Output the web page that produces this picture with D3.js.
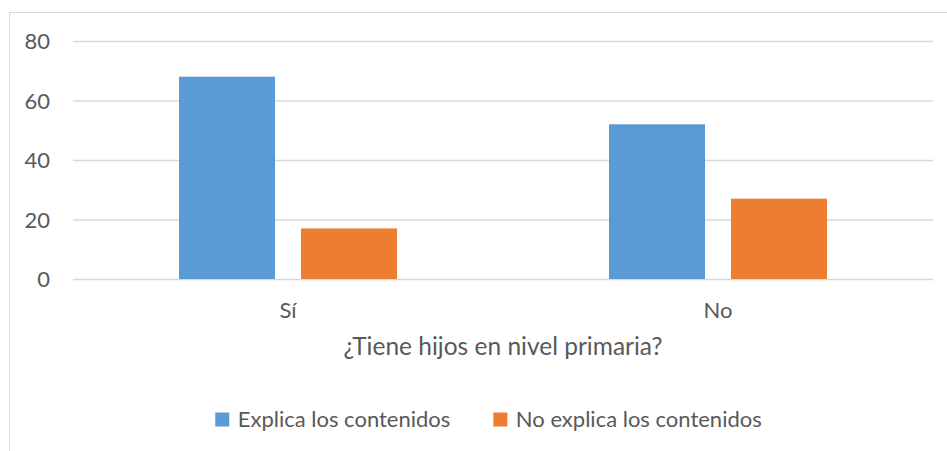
<!DOCTYPE html>
<html>
<head>
<meta charset="utf-8">
<script src="https://cdn.jsdelivr.net/npm/d3@7"></script>
<style>
  html, body { margin: 0; padding: 0; background: #fff; }
  svg { display: block; }
  text { font-family: Lato, "Open Sans", sans-serif; fill: #595959; }
</style>
</head>
<body>
<svg id="chart" width="947" height="451"></svg>
<script>
const categories = ["Sí", "No"];
const seriesNames = ["Explica los contenidos", "No explica los contenidos"];
const explica = [68, 52];
const noExplica = [17, 27];
const yTicks = [0, 20, 40, 60, 80];
const colors = ["#5B9BD5", "#ED7D31"];
const axisTitle = "¿Tiene hijos en nivel primaria?";

const seriesValues = [explica, noExplica];
const data = categories.map((c, i) => ({
  cat: c,
  vals: seriesNames.map((s, j) => ({ series: s, value: seriesValues[j][i], color: colors[j] }))
}));

const svg = d3.select("#chart");
const W = 947, H = 451;
const plot = { left: 73, right: 933, top: 41, bottom: 279 };

// chart frame (extends past the right and bottom edges)
svg.append("rect")
  .attr("x", 9.5).attr("y", 12.5)
  .attr("width", 1200).attr("height", 1200)
  .attr("fill", "#fff").attr("stroke", "#D9D9D9").attr("stroke-width", 1);

const y = d3.scaleLinear().domain([0, 80]).range([plot.bottom, plot.top]);
const x0 = d3.scaleBand().domain(categories).range([plot.left, plot.right]).paddingInner(0).paddingOuter(0);
const x1 = d3.scaleBand().domain(seriesNames).range([0, x0.bandwidth()]).paddingInner(0.213).paddingOuter(0.869);

// gridlines
const yAxis = d3.axisLeft(y).tickValues(yTicks).tickSize(-(plot.right - plot.left)).tickPadding(23).tickFormat(d3.format("d"));
const gAxis = svg.append("g").attr("transform", `translate(${plot.left},0)`).call(yAxis);
gAxis.select(".domain").remove();
gAxis.selectAll(".tick line").attr("stroke", "#D9D9D9").attr("stroke-width", 1.5);
gAxis.selectAll(".tick text")
  .attr("fill", "#595959").style("font-family", "Lato, 'Open Sans', sans-serif")
  .style("font-size", "22px").attr("dy", "0.35em");

// bars
const groups = svg.append("g").selectAll("g").data(data).join("g")
  .attr("transform", d => `translate(${x0(d.cat)},0)`);
groups.selectAll("rect").data(d => d.vals).join("rect")
  .attr("x", d => x1(d.series))
  .attr("y", d => y(d.value))
  .attr("width", x1.bandwidth())
  .attr("height", d => y(0) - y(d.value))
  .attr("fill", d => d.color);

// category labels
const xAxis = d3.axisBottom(x0).tickSize(0).tickPadding(0);
const gx = svg.append("g").attr("transform", `translate(0,${plot.bottom})`).call(xAxis);
gx.select(".domain").remove();
gx.selectAll(".tick text")
  .attr("fill", "#595959").style("font-family", "Lato, 'Open Sans', sans-serif")
  .style("font-size", "22px").attr("y", 38.5).attr("dy", 0);

// axis title
svg.append("text")
  .attr("x", (plot.left + plot.right) / 2).attr("y", 354.5)
  .attr("text-anchor", "middle")
  .style("font-size", "24.5px")
  .text(axisTitle);

// legend
const legend = svg.append("g");
const items = legend.selectAll("g").data(seriesNames).join("g");
items.append("rect").attr("width", 14).attr("height", 14).attr("y", 412.5)
  .attr("fill", (d, i) => colors[i]);
items.append("text").attr("x", 22.5).attr("y", 426.7)
  .style("font-size", "22px").text(d => d);
let cx = 0;
const widths = [];
items.each(function () {
  const tw = d3.select(this).select("text").node().getComputedTextLength();
  widths.push(tw);
});
const gap = 43;
const total = widths.reduce((a, w) => a + 22.5 + w, 0) + gap * (widths.length - 1);
let start = 488.5 - total / 2;
items.attr("transform", (d, i) => {
  const t = `translate(${start},0)`;
  start += 22.5 + widths[i] + gap;
  return t;
});
</script>
</body>
</html>
